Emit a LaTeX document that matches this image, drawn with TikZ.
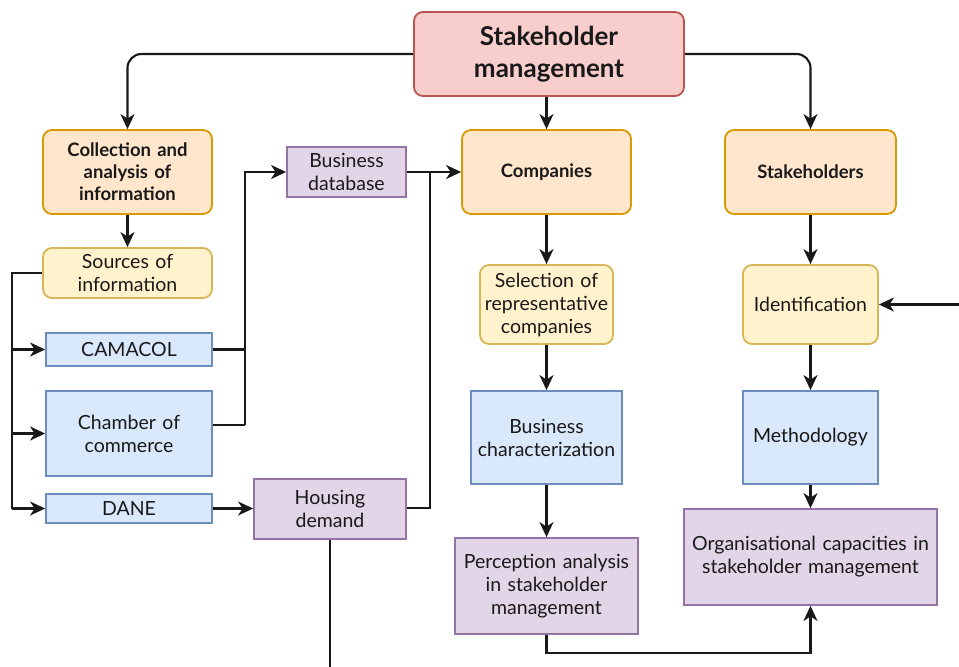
\documentclass[tikz,border=0pt]{standalone}
\usepackage{fontspec}
\setmainfont{Lato}
\usetikzlibrary{arrows.meta}
\definecolor{redF}{HTML}{F8CECC}\definecolor{redD}{HTML}{B85450}
\definecolor{orF}{HTML}{FFE6CC}\definecolor{orD}{HTML}{D79B00}
\definecolor{yeF}{HTML}{FFF2CC}\definecolor{yeD}{HTML}{D6B656}
\definecolor{blF}{HTML}{DAE8FC}\definecolor{blD}{HTML}{6C8EBF}
\definecolor{puF}{HTML}{E1D5E7}\definecolor{puD}{HTML}{9673A6}
\begin{document}
\begin{tikzpicture}[x=1pt,y=-1pt,
  base/.style={draw, line width=1.8pt, align=center, inner sep=1pt, font=\fontsize{19.5}{23}\selectfont, text=black!90},
  rbox/.style={base, rounded corners=9pt},
  redbox/.style={rbox, fill=redF, draw=redD, font=\fontsize{26}{32}\selectfont\bfseries},
  orbox/.style={rbox, fill=orF, draw=orD, font=\fontsize{18.5}{22}\selectfont\bfseries},
  yebox/.style={rbox, fill=yeF, draw=yeD},
  blbox/.style={base, fill=blF, draw=blD},
  pubox/.style={base, fill=puF, draw=puD},
  wh/.style 2 args={minimum width=#1pt, minimum height=#2pt, text width=#1pt-4pt},
  conn/.style={line width=2.1pt, draw=black!90},
  arr/.style={conn, -{Stealth[length=15pt,width=14pt,inset=4.5pt]}}
]
\fill[white] (0,0) rectangle (959,667);
\useasboundingbox (0,0) rectangle (959,667);

\node[redbox, wh={270}{84}] (sm) at (549,54) {Stakeholder\\management};
\node[orbox, wh={169}{84}] (coll) at (127.5,172) {Collection and\\analysis of\\information};
\node[orbox, wh={169}{84}] (comp) at (546.5,172) {Companies};
\node[orbox, wh={171}{84}] (stk) at (810.5,172) {Stakeholders};
\node[pubox, wh={119}{50}] (bdb) at (346.5,172) {Business\\database};
\node[yebox, wh={169}{50}] (src) at (127.5,273) {Sources of\\information};
\node[yebox, wh={133}{79}] (sel) at (546.5,304.5) {Selection of\\representative\\companies};
\node[yebox, wh={135}{79}] (ident) at (810.5,304.5) {Identification};
\node[blbox, wh={166}{33}] (cam) at (129,349.5) {CAMACOL};
\node[blbox, wh={166}{85}] (cham) at (129,433.5) {Chamber of\\commerce};
\node[blbox, wh={166}{29}] (dane) at (129,508.5) {DANE};
\node[pubox, wh={152}{60}] (house) at (330,509) {Housing\\demand};
\node[blbox, wh={151}{93}] (bchar) at (546.5,437.5) {Business\\characterization};
\node[blbox, wh={135}{93}] (meth) at (810.5,437.5) {Methodology};
\node[pubox, wh={183}{96}] (perc) at (546.5,586) {Perception analysis\\in stakeholder\\management};
\node[pubox, wh={253}{96}] (org) at (810.5,557) {Organisational capacities in\\stakeholder management};

% top connectors
\draw[arr, rounded corners=14pt] (sm.west) -| (coll.north);
\draw[arr, rounded corners=14pt] (sm.east) -| (stk.north);
\draw[arr] (sm.south -| comp.north) -- (comp.north);
\draw[arr] (coll) -- (src);
\draw[arr] (comp) -- (sel);
\draw[arr] (sel) -- (bchar);
\draw[arr] (bchar) -- (perc);
\draw[arr] (stk) -- (ident);
\draw[arr] (ident) -- (meth);
\draw[arr] (meth) -- (org);

% sources branch
\coordinate (lt) at (12,273);
\coordinate (lb) at (12,508.5);
\draw[conn] (src.west) -- (lt) -- (lb);
\draw[arr] (lt |- cam.west) -- (cam.west);
\draw[arr] (lt |- cham.west) -- (cham.west);
\draw[arr] (lb) -- (dane.west);

% to business database
\coordinate (mj) at (245,425);
\draw[conn] (cam.east) -- (cam.east -| mj);
\draw[conn] (cham.east |- mj) -- (mj);
\draw[arr] (mj) |- (bdb.west);
\draw[arr] (dane.east) -- (dane.east -| house.west);

% housing to companies
\coordinate (hj) at (430,508);
\draw[conn] (house.east |- hj) -- (hj) -- (hj |- comp.west);
\draw[arr] (bdb.east) -- (comp.west);
\coordinate (hb) at (330,667);
\draw[conn] (house.south) -- (hb);

% perception to org
\draw[arr] (perc.south) -- ++(0,18) -| (org.south);

% external to identification
\coordinate (ext) at (959,304.5);
\draw[arr] (ext) -- (ident.east);
\end{tikzpicture}
\end{document}
